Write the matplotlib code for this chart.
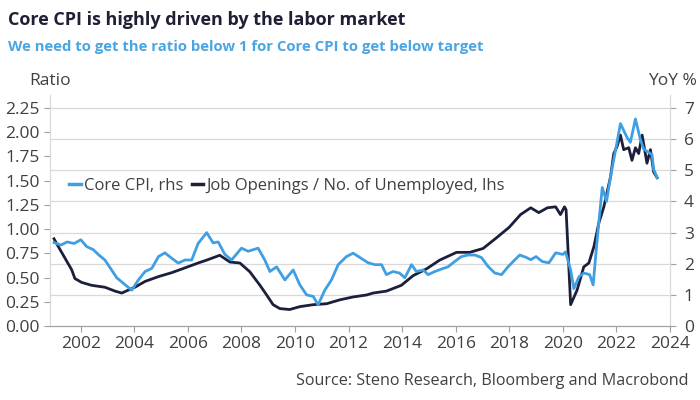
import matplotlib.pyplot as plt
from matplotlib.lines import Line2D

plt.rcParams['font.family'] = ['Open Sans', 'DejaVu Sans']

# Job openings / no. of unemployed (lhs)
ratio_years = [2001.0, 2001.16, 2001.41, 2001.66, 2001.78, 2002.03, 2002.4, 2002.9, 2003.28, 2003.53,
               2003.77, 2004.02, 2004.4, 2004.9, 2005.39, 2005.89, 2006.38, 2006.7, 2007.19, 2007.57,
               2007.94, 2008.31, 2008.69, 2008.94, 2009.18, 2009.43, 2009.8, 2010.18, 2010.68, 2011.18,
               2011.67, 2012.17, 2012.67, 2012.91, 2013.41, 2013.97, 2014.41, 2014.91, 2015.4, 2016.03,
               2016.52, 2017.02, 2017.52, 2018.0, 2018.42, 2018.8, 2019.1, 2019.42, 2019.73, 2019.91,
               2020.06, 2020.12, 2020.29, 2020.53, 2020.78, 2020.97, 2021.16, 2021.34, 2021.53, 2021.78,
               2021.9, 2022.02, 2022.15, 2022.27, 2022.46, 2022.58, 2022.71, 2022.83, 2022.96, 2023.14,
               2023.27, 2023.39, 2023.52]
ratio_values = [0.90, 0.82, 0.70, 0.58, 0.49, 0.45, 0.42, 0.40, 0.36, 0.34,
                0.37, 0.40, 0.46, 0.51, 0.55, 0.60, 0.65, 0.68, 0.73, 0.66,
                0.65, 0.56, 0.42, 0.32, 0.22, 0.18, 0.17, 0.20, 0.22, 0.23,
                0.27, 0.30, 0.32, 0.34, 0.36, 0.42, 0.52, 0.59, 0.68, 0.76,
                0.76, 0.80, 0.91, 1.02, 1.15, 1.22, 1.17, 1.22, 1.23, 1.15,
                1.23, 1.20, 0.22, 0.37, 0.61, 0.65, 0.82, 1.06, 1.23, 1.54,
                1.78, 1.85, 1.97, 1.82, 1.84, 1.71, 1.84, 1.78, 1.97, 1.68,
                1.82, 1.59, 1.53]

# Core CPI YoY % (rhs)
cpi_years = [2001.0, 2001.26, 2001.49, 2001.75, 2002.0, 2002.22, 2002.47, 2002.65, 2002.9, 2003.15,
             2003.34, 2003.65, 2003.9, 2004.15, 2004.4, 2004.65, 2004.9, 2005.14, 2005.39, 2005.64,
             2005.89, 2006.14, 2006.38, 2006.7, 2006.94, 2007.13, 2007.38, 2007.63, 2008.0, 2008.25,
             2008.62, 2008.87, 2009.06, 2009.31, 2009.62, 2009.93, 2010.18, 2010.43, 2010.68, 2010.86,
             2011.11, 2011.36, 2011.61, 2011.92, 2012.17, 2012.42, 2012.73, 2012.98, 2013.23, 2013.41,
             2013.66, 2013.9, 2014.1, 2014.35, 2014.53, 2014.78, 2014.97, 2015.22, 2015.47, 2015.71,
             2015.96, 2016.21, 2016.46, 2016.71, 2016.96, 2017.2, 2017.46, 2017.71, 2017.95, 2018.2,
             2018.39, 2018.64, 2018.8, 2019.0, 2019.23, 2019.48, 2019.73, 2020.0, 2020.1, 2020.29,
             2020.41, 2020.6, 2020.78, 2021.0, 2021.13, 2021.28, 2021.47, 2021.63, 2021.78, 2022.0,
             2022.15, 2022.4, 2022.52, 2022.71, 2022.89, 2023.02, 2023.2, 2023.33, 2023.39, 2023.52]
cpi_values = [2.68, 2.60, 2.70, 2.65, 2.77, 2.55, 2.45, 2.30, 2.12, 1.80,
              1.55, 1.33, 1.15, 1.48, 1.75, 1.85, 2.23, 2.35, 2.18, 2.02,
              2.12, 2.12, 2.65, 3.00, 2.67, 2.70, 2.30, 2.12, 2.50, 2.40,
              2.50, 2.12, 1.75, 1.90, 1.48, 1.80, 1.32, 1.00, 0.95, 0.68,
              1.15, 1.48, 1.97, 2.23, 2.34, 2.20, 2.03, 1.97, 1.97, 1.65,
              1.75, 1.70, 1.55, 1.97, 1.75, 1.80, 1.65, 1.75, 1.83, 1.90,
              2.07, 2.23, 2.28, 2.28, 2.20, 1.92, 1.70, 1.65, 1.90, 2.12,
              2.28, 2.20, 2.13, 2.23, 2.07, 2.03, 2.35, 2.30, 2.38, 1.80,
              1.20, 1.58, 1.70, 1.65, 1.32, 2.77, 4.45, 4.00, 4.80, 5.80,
              6.50, 6.05, 5.90, 6.65, 6.00, 5.68, 5.58, 5.50, 5.03, 4.77]

left_ticks = [0, 0.25, 0.5, 0.75, 1.0, 1.25, 1.5, 1.75, 2.0, 2.25]
right_ticks = [0, 1, 2, 3, 4, 5, 6, 7]
year_ticks = [2002, 2004, 2006, 2008, 2010, 2012, 2014, 2016, 2018, 2020, 2022, 2024]

navy = '#1c1f3b'
blue = '#3f9fe2'
txt = '#404040'
grid = '#d9d9d9'

left_top = 2.384
right_top = 7.42

fig = plt.figure(figsize=(7, 4), dpi=100)
ax = fig.add_axes([50 / 700, 74 / 400, 620 / 700, 231 / 400])
ax2 = ax.twinx()

# gridlines sit at the right-axis ticks, drawn on the lower axes
for v in right_ticks[1:]:
    ax.axhline(v * left_top / right_top, color=grid, lw=0.9, zorder=0)

ax.plot(ratio_years, ratio_values, color=navy, lw=2.0, zorder=2)
ax2.plot(cpi_years, cpi_values, color=blue, lw=2.0)

ax.set_xlim(2000.85, 2024)
ax.set_ylim(0, left_top)
ax2.set_ylim(0, right_top)
ax.set_yticks(left_ticks)
ax.set_yticklabels(['%.2f' % v for v in left_ticks])
ax2.set_yticks(right_ticks)
ax.set_xticks(year_ticks)
ax.set_xticklabels([str(y) for y in year_ticks])

for a in (ax, ax2):
    a.spines['top'].set_visible(False)
    a.spines['left'].set_color(grid)
    a.spines['right'].set_color(grid)
    a.spines['bottom'].set_color('#a0a0a0')
    a.tick_params(labelsize=12.5, colors=txt, length=4, color='#a0a0a0')
ax2.tick_params(axis='y', pad=6)

fig.text(8 / 700, 1 - 20 / 400, 'Core CPI is highly driven by the labor market',
         fontsize=13, fontweight='bold', color='#1f2033', va='center')
fig.text(8 / 700, 1 - 47 / 400, 'We need to get the ratio below 1 for Core CPI to get below target',
         fontsize=10.7, fontweight='bold', color='#4aa6e3', va='center')
fig.text(29 / 700, 1 - 81 / 400, 'Ratio', fontsize=12.5, color=txt, va='center')
fig.text(697 / 700, 1 - 81 / 400, 'YoY %', fontsize=12.5, color=txt, va='center', ha='right')
fig.text(688 / 700, 1 - 381 / 400, 'Source: Steno Research, Bloomberg and Macrobond',
         fontsize=11.6, color=txt, va='center', ha='right')

handles = [Line2D([], [], color=blue, lw=2.5), Line2D([], [], color=navy, lw=2.5)]
leg = ax2.legend(handles, ['Core CPI, rhs', 'Job Openings / No. of Unemployed, lhs'],
                 loc='center left', bbox_to_anchor=(0.02, 0.605), ncol=2, frameon=False,
                 fontsize=12, handlelength=0.7, handletextpad=0.2, columnspacing=0.5,
                 borderaxespad=0)
for t in leg.get_texts():
    t.set_color(txt)

fig.savefig('out.png', dpi=100)
